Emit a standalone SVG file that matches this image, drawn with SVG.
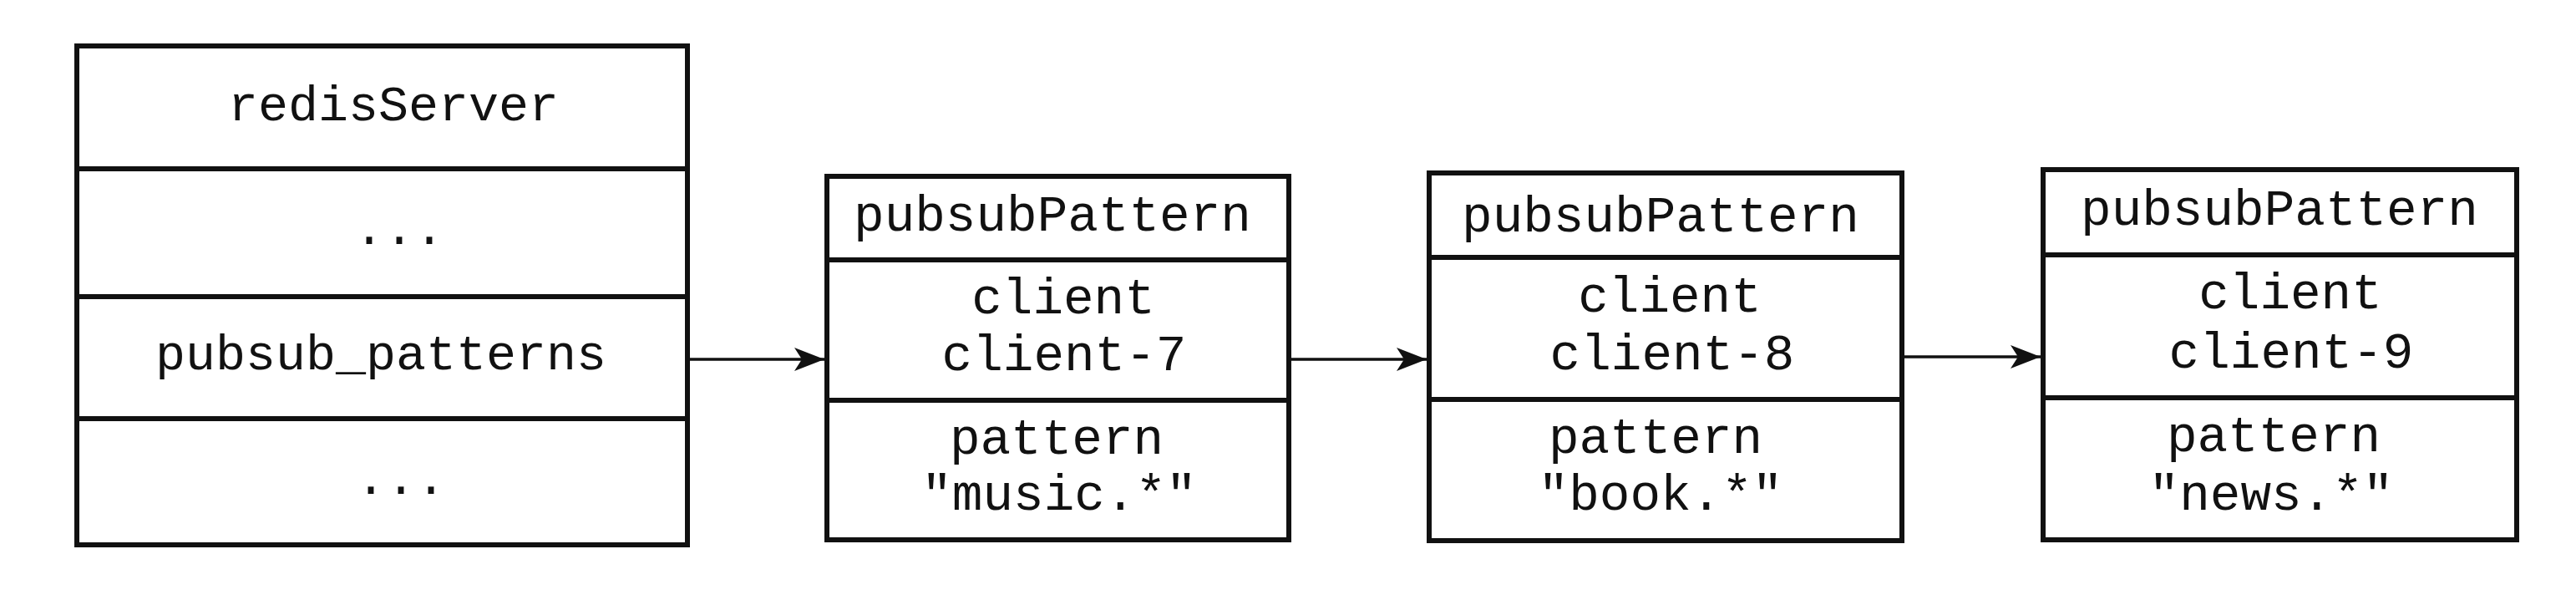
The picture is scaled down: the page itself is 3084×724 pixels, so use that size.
<svg xmlns="http://www.w3.org/2000/svg" width="3084" height="724" viewBox="0 0 3084 724">
<defs>
<style>
.box{fill:#fff;stroke:#111;stroke-width:6}
.div{stroke:#111;stroke-width:6}
.t{font-family:"Liberation Mono","Courier New",monospace;font-size:61px;fill:#111;text-anchor:middle}
.tl{font-size:60px}
.conn{stroke:#111;stroke-width:3.5;fill:none}
</style>
<marker id="ah" markerUnits="userSpaceOnUse" markerWidth="40" markerHeight="30" refX="36" refY="14" orient="auto">
<path d="M0,0 L36,14 L0,28 L9,14 z" fill="#111"/>
</marker>
</defs>
<rect width="3084" height="724" fill="#fff"/>
<g id="redisServer">
<rect class="box" x="92" y="55" width="731" height="597"/>
<line class="div" x1="92" y1="202" x2="823" y2="202"/>
<line class="div" x1="92" y1="355" x2="823" y2="355"/>
<line class="div" x1="92" y1="501" x2="823" y2="501"/>
<text class="t tl" x="471" y="144">redisServer</text>
<text class="t tl" x="478" y="292">...</text>
<text class="t tl" x="456" y="442">pubsub_patterns</text>
<text class="t tl" x="480" y="591">...</text>
</g>
<g id="pattern1">
<rect class="box" x="990" y="211" width="553" height="435"/>
<line class="div" x1="990" y1="311" x2="1543" y2="311"/>
<line class="div" x1="990" y1="479" x2="1543" y2="479"/>
<text class="t" x="1260" y="276">pubsubPattern</text>
<text class="t" x="1273" y="375">client</text>
<text class="t" x="1274" y="443">client-7</text>
<text class="t" x="1265" y="543">pattern</text>
<text class="t" x="1268" y="610">"music.*"</text>
</g>
<g id="pattern2">
<rect class="box" x="1711" y="207" width="566" height="440"/>
<line class="div" x1="1711" y1="308" x2="2277" y2="308"/>
<line class="div" x1="1711" y1="478" x2="2277" y2="478"/>
<text class="t" x="1988" y="277">pubsubPattern</text>
<text class="t" x="1999" y="373">client</text>
<text class="t" x="2002" y="442">client-8</text>
<text class="t" x="1982" y="542">pattern</text>
<text class="t" x="1988" y="610">"book.*"</text>
</g>
<g id="pattern3">
<rect class="box" x="2446" y="203" width="567" height="443"/>
<line class="div" x1="2446" y1="305" x2="3013" y2="305"/>
<line class="div" x1="2446" y1="476" x2="3013" y2="476"/>
<text class="t" x="2729" y="269">pubsubPattern</text>
<text class="t" x="2742" y="369">client</text>
<text class="t" x="2743" y="440">client-9</text>
<text class="t" x="2722" y="540">pattern</text>
<text class="t" x="2719" y="610">"news.*"</text>
</g>
<g id="connectors">
<line class="conn" x1="826" y1="430" x2="987" y2="430" marker-end="url(#ah)"/>
<line class="conn" x1="1546" y1="430" x2="1708" y2="430" marker-end="url(#ah)"/>
<line class="conn" x1="2280" y1="427" x2="2443" y2="427" marker-end="url(#ah)"/>
</g>
</svg>
